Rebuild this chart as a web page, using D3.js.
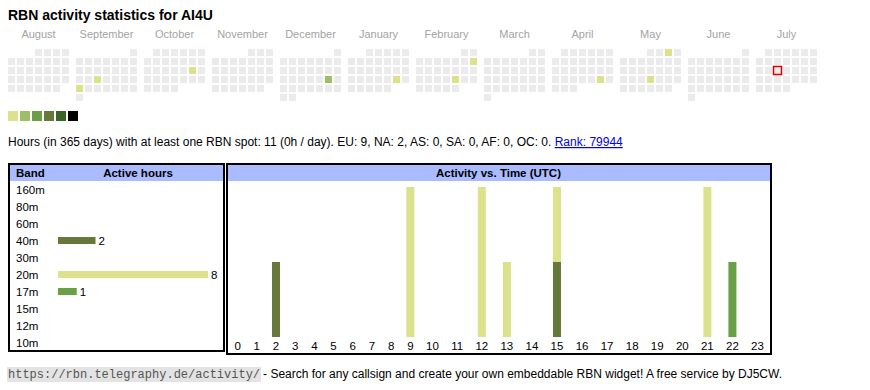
<!DOCTYPE html>
<html>
<head>
<meta charset="utf-8">
<script src="https://cdn.jsdelivr.net/npm/d3@7"></script>
<style>
  body { margin: 0; background: #fff; }
  svg { display: block; font-family: "Liberation Sans", Arial, sans-serif; }
</style>
</head>
<body>
<div id="chart"></div>
<script>
// calendar: Aug 2024 - Jul 2025, days with at least one spot (hours)
const months = ['August', 'September', 'October', 'November', 'December', 'January',
  'February', 'March', 'April', 'May', 'June', 'July'];
const activeDays = [
  ['2024-09-18', 1], ['2024-09-23', 1], ['2024-10-19', 1], ['2024-12-21', 2],
  ['2025-01-25', 1], ['2025-02-09', 1], ['2025-02-21', 1], ['2025-04-26', 1],
  ['2025-05-03', 1], ['2025-05-22', 1]
];
const todayStr = '2025-07-16';
const levelColors = ['#dbe28b', '#9cc068', '#6a9f46', '#66793b', '#3b6526', '#000000'];

const bands = ['160m', '80m', '60m', '40m', '30m', '20m', '17m', '15m', '12m', '10m'];
const bandHours = [0, 0, 0, 2, 0, 8, 1, 0, 0, 0];

const hourLabels = d3.range(24).map(String);
const activeBands = ['40m', '20m', '17m'];
const bandColors = ['#66793b', '#dbe28b', '#6a9f46'];
const hours40m = [0,0,1,0,0,0,0,0,0,0,0,0,0,0,0,1,0,0,0,0,0,0,0,0];
const hours20m = [0,0,0,0,0,0,0,0,0,2,0,0,2,1,0,1,0,0,0,0,0,2,0,0];
const hours17m = [0,0,0,0,0,0,0,0,0,0,0,0,0,0,0,0,0,0,0,0,0,0,1,0];

const continents = ['EU', 'NA', 'AS', 'SA', 'AF', 'OC'];
const continentHours = [9, 2, 0, 0, 0, 0];
const totalHours = 11;
const rank = 79944;

const svg = d3.select('#chart')
  .append('svg')
  .attr('width', 870)
  .attr('height', 390);

svg.append('text')
  .attr('x', 8)
  .attr('y', 20)
  .attr('font-size', '14px')
  .attr('font-weight', 'bold')
  .text('RBN activity statistics for AI4U');

// ---- calendar heatmap ----
const parse = d3.timeParse('%Y-%m-%d');
const levelOf = new Map(activeDays.map(d => [d[0], d[1]]));
const fmt = d3.timeFormat('%Y-%m-%d');
const start = new Date(2024, 7, 1);
const cell = 9;
const monthX = d3.scaleBand()
  .domain(d3.range(12))
  .range([8, 8 + 12 * 68 - 5])
  .paddingInner(5 / 68);

svg.selectAll('.month-label')
  .data(months)
  .enter()
  .append('text')
  .attr('class', 'month-label')
  .attr('x', (d, i) => monthX(i) + (7 * cell - 2) / 2)
  .attr('y', 38)
  .attr('text-anchor', 'middle')
  .attr('font-size', '11px')
  .attr('fill', '#a3a3a3')
  .text(d => d);

const days = d3.timeDays(start, new Date(2025, 7, 1));
function dayPos(d) {
  const m = d3.timeMonth.count(start, d3.timeMonth.floor(d));
  const col = (d.getDay() + 6) % 7;
  const row = d3.timeMonday.count(d3.timeMonday.floor(d3.timeMonth.floor(d)), d);
  return [monthX(m) + col * cell, 49 + row * cell];
}

svg.selectAll('.day')
  .data(days)
  .enter()
  .append('rect')
  .attr('class', 'day')
  .attr('x', d => dayPos(d)[0])
  .attr('y', d => dayPos(d)[1])
  .attr('width', 7)
  .attr('height', 7)
  .attr('fill', d => levelOf.has(fmt(d)) ? levelColors[levelOf.get(fmt(d)) - 1] : '#ebebeb');

const today = parse(todayStr);
svg.append('rect')
  .attr('x', dayPos(today)[0] - 0.5)
  .attr('y', dayPos(today)[1] - 0.5)
  .attr('width', 8)
  .attr('height', 8)
  .attr('fill', '#ebebeb')
  .attr('stroke', '#e00000')
  .attr('stroke-width', 1.5);

svg.selectAll('.legend')
  .data(levelColors)
  .enter()
  .append('rect')
  .attr('x', (d, i) => 8 + i * 12)
  .attr('y', 111)
  .attr('width', 10)
  .attr('height', 10)
  .attr('fill', d => d);

// ---- summary line ----
const info = svg.append('text')
  .attr('x', 8)
  .attr('y', 146)
  .attr('font-size', '12px');
info.append('tspan')
  .text(`Hours (in 365 days) with at least one RBN spot: ${totalHours} (0h / day). ` +
    continents.map((c, i) => `${c}: ${continentHours[i]}`).join(', ') + '. ');
info.append('tspan')
  .attr('fill', '#0000ee')
  .attr('text-decoration', 'underline')
  .text(`Rank: ${rank}`);

// ---- band table ----
svg.append('rect')
  .attr('x', 9).attr('y', 164)
  .attr('width', 215).attr('height', 187)
  .attr('fill', 'none').attr('stroke', '#000').attr('stroke-width', 2);
svg.append('rect')
  .attr('x', 10).attr('y', 165)
  .attr('width', 213).attr('height', 16)
  .attr('fill', '#aabbff');
svg.append('text')
  .attr('x', 16).attr('y', 177)
  .attr('font-size', '11.5px').attr('font-weight', 'bold')
  .text('Band');
svg.append('text')
  .attr('x', 138).attr('y', 177)
  .attr('text-anchor', 'middle')
  .attr('font-size', '11.5px').attr('font-weight', 'bold')
  .text('Active hours');

const bandY = d3.scalePoint().domain(bands).range([189.5, 342.5]);
const hoursX = d3.scaleLinear().domain([0, d3.max(bandHours)]).range([0, 150]);

svg.selectAll('.band-label')
  .data(bands)
  .enter()
  .append('text')
  .attr('x', 16)
  .attr('y', d => bandY(d) + 4)
  .attr('font-size', '11.5px')
  .text(d => d);

const bandRows = bands.map((b, i) => ({ band: b, hours: bandHours[i] })).filter(d => d.hours > 0);
svg.selectAll('.band-bar')
  .data(bandRows)
  .enter()
  .append('rect')
  .attr('x', 58)
  .attr('y', d => bandY(d.band) - 3.5)
  .attr('width', d => hoursX(d.hours))
  .attr('height', 7)
  .attr('fill', d => bandColors[activeBands.indexOf(d.band)]);
svg.selectAll('.band-value')
  .data(bandRows)
  .enter()
  .append('text')
  .attr('x', d => 58 + hoursX(d.hours) + 3)
  .attr('y', d => bandY(d.band) + 4)
  .attr('font-size', '11.5px')
  .text(d => d.hours);

// ---- activity vs time ----
svg.append('rect')
  .attr('x', 227).attr('y', 164)
  .attr('width', 544).attr('height', 190)
  .attr('fill', 'none').attr('stroke', '#000').attr('stroke-width', 2);
svg.append('rect')
  .attr('x', 228).attr('y', 165)
  .attr('width', 542).attr('height', 16)
  .attr('fill', '#aabbff');
svg.append('text')
  .attr('x', 498.5).attr('y', 177)
  .attr('text-anchor', 'middle')
  .attr('font-size', '11.5px').attr('font-weight', 'bold')
  .text('Activity vs. Time (UTC)');

// hour columns sized like an auto table: by label width
const hourText = svg.selectAll('.hour-label')
  .data(hourLabels)
  .enter()
  .append('text')
  .attr('class', 'hour-label')
  .attr('y', 350)
  .attr('text-anchor', 'middle')
  .attr('font-size', '11.5px')
  .text(d => d);
const widths = hourText.nodes().map(n => n.getComputedTextLength() + 14.5);
const cum = d3.cumsum(widths);
const colX = d3.scaleLinear().domain([0, cum[cum.length - 1]]).range([228, 770]);
const hourX = h => colX(cum[h] - widths[h] / 2);
hourText.attr('x', (d, i) => hourX(i));

const countY = d3.scaleLinear().domain([0, 2]).range([337, 187]);
const table = d3.range(24).map(h => ({ hour: h, '40m': hours40m[h], '20m': hours20m[h], '17m': hours17m[h] }));
const series = d3.stack().keys(activeBands)(table);

svg.selectAll('.hour-series')
  .data(series)
  .enter()
  .append('g')
  .attr('fill', d => bandColors[activeBands.indexOf(d.key)])
  .selectAll('rect')
  .data(d => d.filter(p => p[1] > p[0]))
  .enter()
  .append('rect')
  .attr('x', d => hourX(d.data.hour) - 4)
  .attr('y', d => countY(d[1]))
  .attr('width', 8)
  .attr('height', d => countY(d[0]) - countY(d[1]));

// ---- footer ----
const url = 'https://rbn.telegraphy.de/activity/';
const urlText = svg.append('text')
  .attr('x', 8)
  .attr('y', 378)
  .attr('font-size', '12px')
  .attr('font-family', '"Liberation Mono", "DejaVu Sans Mono", monospace')
  .attr('fill', '#555')
  .text(url);
const uw = urlText.node().getComputedTextLength();
svg.insert('rect', 'text:last-child')
  .attr('x', 7)
  .attr('y', 367)
  .attr('width', uw + 2)
  .attr('height', 15)
  .attr('fill', '#e3e3e3');
svg.append('text')
  .attr('x', 8 + uw + 3)
  .attr('y', 378)
  .attr('font-size', '12px')
  .text(' - Search for any callsign and create your own embeddable RBN widget! A free service by DJ5CW.');
</script>
</body>
</html>
